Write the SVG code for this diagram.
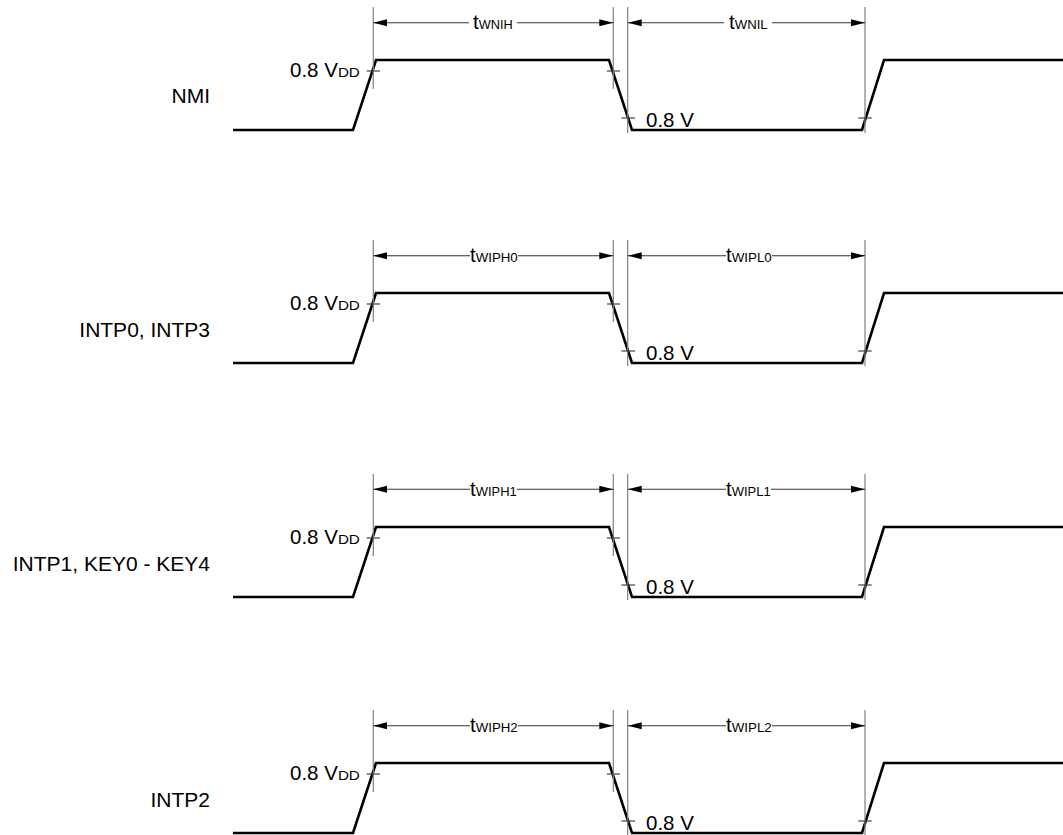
<svg xmlns="http://www.w3.org/2000/svg" width="1063" height="835" viewBox="0 0 1063 835">
<style>
text{font-family:"Liberation Sans",Arial,sans-serif;fill:#000}
.lbl{font-size:21px;text-anchor:end}
.v{font-size:20.5px}
.sub{font-size:13.5px}
.wave{fill:none;stroke:#000;stroke-width:2.6;stroke-linejoin:miter}
.ext{stroke:#808080;stroke-width:1.2;fill:none}
.tick{stroke:#404040;stroke-width:1.2}
.dim{stroke:#333;stroke-width:1.1;fill:none}
</style>
<defs>
<marker id="ah" viewBox="0 0 14 8" refX="14" refY="4" markerWidth="14" markerHeight="8" markerUnits="userSpaceOnUse" orient="auto">
<path d="M0,0.5 L14,4 L0,7.5 z" fill="#000"/>
</marker>
<g id="rowbase">
<polyline class="wave" points="233,130 353,130 376,60 609,60 632,130 862,130 884,60 1063,60"/>
<line class="ext" x1="373.3" y1="7" x2="373.3" y2="89"/>
<line class="ext" x1="613.3" y1="7" x2="613.3" y2="89"/>
<line class="ext" x1="627.7" y1="7" x2="627.7" y2="133"/>
<line class="ext" x1="865" y1="7" x2="865" y2="133"/>
<line class="tick" x1="366.7" y1="71" x2="380" y2="71"/>
<line class="tick" x1="607" y1="71" x2="620" y2="71"/>
<line class="tick" x1="621.5" y1="118" x2="635" y2="118"/>
<line class="tick" x1="858.3" y1="118" x2="871.7" y2="118"/>
<text x="290" y="77"><tspan class="v">0.8 V</tspan><tspan class="sub" textLength="22" lengthAdjust="spacingAndGlyphs">DD</tspan></text>
<text class="v" x="646" y="126.7">0.8 V</text>
</g>
</defs>

<g id="nmi">
<use href="#rowbase"/>
<text class="lbl" x="210" y="103">NMI</text>
</g>
<g id="intp0-intp3" transform="translate(0,233)">
<use href="#rowbase"/>
<text class="lbl" x="210" y="103.5">INTP0, INTP3</text>
</g>
<g id="intp1-key" transform="translate(0,467)">
<use href="#rowbase"/>
<text class="lbl" x="210" y="104">INTP1, KEY0 - KEY4</text>
</g>
<g id="intp2" transform="translate(0,703)">
<use href="#rowbase"/>
<text class="lbl" x="210" y="103.5">INTP2</text>
</g>

<g id="connectors">
<g id="dim-nmi">
<line class="dim" x1="469" y1="22.7" x2="373.3" y2="22.7" marker-end="url(#ah)"/>
<line class="dim" x1="517" y1="22.7" x2="613.3" y2="22.7" marker-end="url(#ah)"/>
<line class="dim" x1="724" y1="22.7" x2="627.7" y2="22.7" marker-end="url(#ah)"/>
<line class="dim" x1="772" y1="22.7" x2="865" y2="22.7" marker-end="url(#ah)"/>
<text x="473" y="29"><tspan class="v">t</tspan><tspan class="sub" textLength="34" lengthAdjust="spacingAndGlyphs">WNIH</tspan></text>
<text x="729" y="29"><tspan class="v">t</tspan><tspan class="sub" textLength="33" lengthAdjust="spacingAndGlyphs">WNIL</tspan></text>
</g>
<g id="dim-intp0" transform="translate(0,233)">
<line class="dim" x1="470" y1="22.7" x2="373.3" y2="22.7" marker-end="url(#ah)"/>
<line class="dim" x1="518" y1="22.7" x2="613.3" y2="22.7" marker-end="url(#ah)"/>
<line class="dim" x1="726" y1="22.7" x2="627.7" y2="22.7" marker-end="url(#ah)"/>
<line class="dim" x1="772" y1="22.7" x2="865" y2="22.7" marker-end="url(#ah)"/>
<text x="470" y="29"><tspan class="v">t</tspan><tspan class="sub" textLength="42" lengthAdjust="spacingAndGlyphs">WIPH0</tspan></text>
<text x="726" y="29"><tspan class="v">t</tspan><tspan class="sub" textLength="40" lengthAdjust="spacingAndGlyphs">WIPL0</tspan></text>
</g>
<g id="dim-intp1" transform="translate(0,466.5)">
<line class="dim" x1="470" y1="22.7" x2="373.3" y2="22.7" marker-end="url(#ah)"/>
<line class="dim" x1="517" y1="22.7" x2="613.3" y2="22.7" marker-end="url(#ah)"/>
<line class="dim" x1="726" y1="22.7" x2="627.7" y2="22.7" marker-end="url(#ah)"/>
<line class="dim" x1="771" y1="22.7" x2="865" y2="22.7" marker-end="url(#ah)"/>
<text x="470" y="29"><tspan class="v">t</tspan><tspan class="sub" textLength="41" lengthAdjust="spacingAndGlyphs">WIPH1</tspan></text>
<text x="726" y="29"><tspan class="v">t</tspan><tspan class="sub" textLength="39" lengthAdjust="spacingAndGlyphs">WIPL1</tspan></text>
</g>
<g id="dim-intp2" transform="translate(0,703)">
<line class="dim" x1="470" y1="22.7" x2="373.3" y2="22.7" marker-end="url(#ah)"/>
<line class="dim" x1="518" y1="22.7" x2="613.3" y2="22.7" marker-end="url(#ah)"/>
<line class="dim" x1="726" y1="22.7" x2="627.7" y2="22.7" marker-end="url(#ah)"/>
<line class="dim" x1="772" y1="22.7" x2="865" y2="22.7" marker-end="url(#ah)"/>
<text x="470" y="29"><tspan class="v">t</tspan><tspan class="sub" textLength="42" lengthAdjust="spacingAndGlyphs">WIPH2</tspan></text>
<text x="726" y="29"><tspan class="v">t</tspan><tspan class="sub" textLength="40" lengthAdjust="spacingAndGlyphs">WIPL2</tspan></text>
</g>
</g>
</svg>
